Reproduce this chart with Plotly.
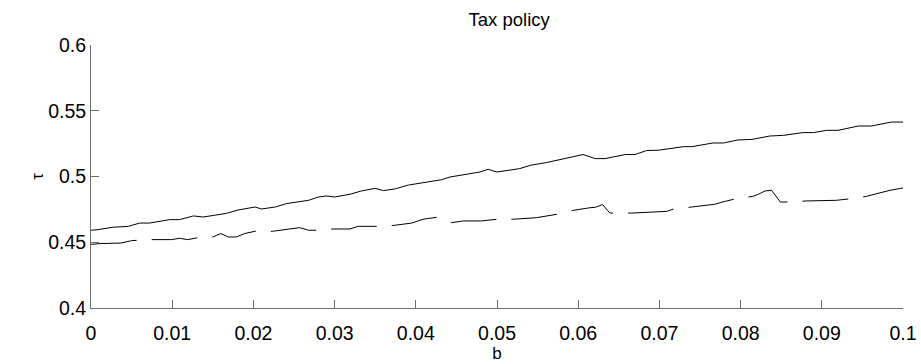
import plotly.graph_objects as go

# Tax rate tau as a function of b, two policy paths
b_solid = [0.0, 0.00086, 0.0027, 0.0046, 0.006, 0.0072, 0.0097, 0.0109, 0.0126, 0.0138,
           0.0152, 0.0167, 0.0181, 0.0197, 0.0202, 0.021, 0.0227, 0.0241, 0.0268, 0.028,
           0.029, 0.030, 0.0319, 0.0333, 0.035, 0.036, 0.0374, 0.0391, 0.0409, 0.0432,
           0.0442, 0.0479, 0.0489, 0.050, 0.0528, 0.0541, 0.0561, 0.0582, 0.0606, 0.0621,
           0.0633, 0.0658, 0.067, 0.0684, 0.0699, 0.073, 0.074, 0.0766, 0.0779, 0.0797,
           0.0814, 0.0836, 0.0853, 0.0877, 0.089, 0.0906, 0.092, 0.0945, 0.0961, 0.0986, 0.1]
tau_solid = [0.4591, 0.4596, 0.4614, 0.4621, 0.4646, 0.4646, 0.4672, 0.4672, 0.4700, 0.4692,
             0.4705, 0.4720, 0.4745, 0.4760, 0.4768, 0.4753, 0.4768, 0.4794, 0.4819, 0.4844,
             0.4852, 0.4844, 0.4865, 0.4890, 0.4910, 0.4893, 0.4905, 0.4935, 0.4954, 0.4976,
             0.4996, 0.5034, 0.5055, 0.5034, 0.5060, 0.5085, 0.5106, 0.5136, 0.5167, 0.5136,
             0.5136, 0.5167, 0.5167, 0.5197, 0.5200, 0.5227, 0.5227, 0.5255, 0.5255, 0.5278,
             0.5282, 0.5308, 0.5313, 0.5334, 0.5334, 0.5351, 0.5351, 0.5384, 0.5384, 0.5414, 0.5414]

b_dashed = [0.0, 0.0011, 0.0037, 0.005, 0.0057, 0.0075, 0.0099, 0.0109, 0.0119, 0.0132,
            0.015, 0.016, 0.0169, 0.0179, 0.0189, 0.0204, 0.0223, 0.0241, 0.0257, 0.0268,
            0.0279, 0.0298, 0.0319, 0.0329, 0.0354, 0.0374, 0.0395, 0.0409, 0.0428, 0.0444,
            0.0459, 0.0481, 0.050, 0.052, 0.0549, 0.0574, 0.0594, 0.0615, 0.0621, 0.063,
            0.0639, 0.0646, 0.0666, 0.0709, 0.0719, 0.074, 0.0768, 0.0781, 0.0795, 0.0815,
            0.0822, 0.083, 0.0838, 0.0849, 0.0861, 0.0881, 0.0918, 0.0937, 0.0955, 0.0968,
            0.0984, 0.1]
tau_dashed = [0.4484, 0.4490, 0.4494, 0.4512, 0.4515, 0.4520, 0.4520, 0.4530, 0.4520, 0.4535,
              0.4540, 0.4566, 0.4540, 0.4540, 0.4566, 0.4586, 0.4583, 0.4596, 0.4611, 0.4591,
              0.4591, 0.4601, 0.4601, 0.4621, 0.4621, 0.4629, 0.4646, 0.4675, 0.4692, 0.4649,
              0.4662, 0.4662, 0.4675, 0.4675, 0.4687, 0.4713, 0.4743, 0.4763, 0.4766, 0.4786,
              0.4722, 0.4722, 0.4722, 0.4735, 0.4756, 0.4768, 0.4789, 0.4811, 0.4832, 0.4849,
              0.4865, 0.4890, 0.4895, 0.4806, 0.4806, 0.4814, 0.4819, 0.4832, 0.4849, 0.4870,
              0.4895, 0.4913]

x_ticks = [0, 0.01, 0.02, 0.03, 0.04, 0.05, 0.06, 0.07, 0.08, 0.09, 0.1]
x_tick_labels = ["0", "0.01", "0.02", "0.03", "0.04", "0.05", "0.06", "0.07", "0.08", "0.09", "0.1"]
y_ticks = [0.4, 0.45, 0.5, 0.55, 0.6]
y_tick_labels = ["0.4", "0.45", "0.5", "0.55", "0.6"]

FONT = "Liberation Sans, Arial, sans-serif"
AXIS_COLOR = "#6e6e6e"

fig = go.Figure()
fig.add_trace(go.Scatter(x=b_solid, y=tau_solid, mode="lines",
                         line=dict(color="black", width=1), showlegend=False))
fig.add_trace(go.Scatter(x=b_dashed, y=tau_dashed, mode="lines",
                         line=dict(color="black", width=1, dash="46px,15px"), showlegend=False))

axis_common = dict(
    showgrid=False, zeroline=False, showline=True, linecolor=AXIS_COLOR, linewidth=1,
    ticks="inside", ticklen=8, tickwidth=1, tickcolor=AXIS_COLOR, mirror=False,
    tickfont=dict(family=FONT, size=19.5, color="black"), automargin=False,
)

fig.update_layout(
    width=921, height=364,
    margin=dict(l=91, r=18, t=45, b=56),
    paper_bgcolor="white", plot_bgcolor="white",
    title=dict(text="Tax policy", x=0.515, xref="paper", xanchor="center",
               y=0.945, yanchor="middle", automargin=False,
               font=dict(family=FONT, size=18.5, color="black")),
    xaxis=dict(range=[0, 0.1], tickvals=x_ticks, ticktext=x_tick_labels,
               ticklabelstandoff=8,
               title=dict(text="b", font=dict(family=FONT, size=17, color="black"), standoff=3),
               **axis_common),
    yaxis=dict(range=[0.4, 0.6], tickvals=y_ticks, ticktext=y_tick_labels,
               title=dict(text="τ", font=dict(family=FONT, size=17, color="black"), standoff=0),
               **axis_common),
)

fig.write_html("out.html")
